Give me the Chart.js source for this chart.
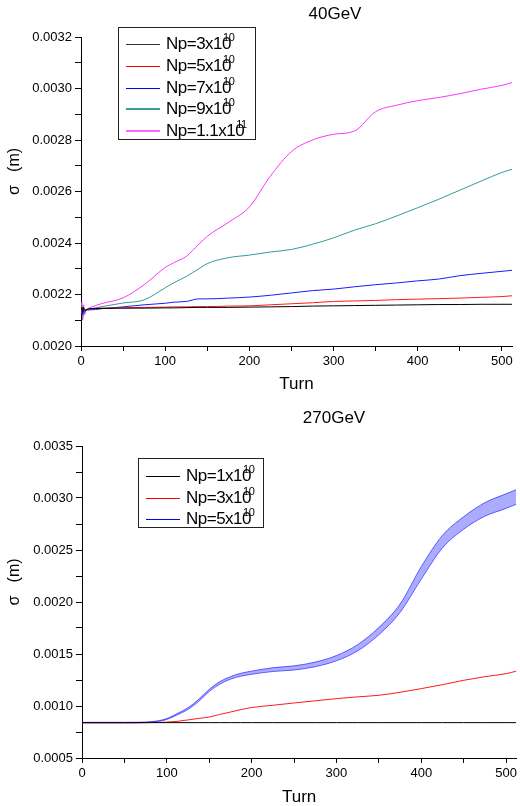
<!DOCTYPE html>
<html>
<head>
<meta charset="utf-8">
<script src="https://cdn.jsdelivr.net/npm/chart.js"></script>
<style>
  html, body { margin: 0; padding: 0; background: #fff; }
  body { width: 520px; height: 806px; position: relative; overflow: hidden;
         font-family: "Liberation Sans", Arial, sans-serif; color: #000; }
  .panel { position: absolute; left: 0; width: 520px; height: 403px; }
  .panel canvas { position: absolute; left: 0; top: 0; }
  .title { position: absolute; font-size: 17px; line-height: 20px; transform: translateX(-50%); white-space: nowrap; }
  .legend { position: absolute; box-sizing: border-box; border: 1px solid #222; background: #fff; }
  .legend .row { position: absolute; left: 0; height: 22px; display: flex; align-items: center; white-space: nowrap; }
  .legend .sw { margin-left: 7px; width: 34px; }
  .legend .lbl { margin-left: 6px; font-size: 17px; line-height: 22px; letter-spacing: -0.5px; }
  .legend sup { font-size: 11px; letter-spacing: -0.5px; position: relative; top: -8px; vertical-align: baseline; margin-left: -8px; }
</style>
</head>
<body>

<div class="panel" style="top:0">
  <canvas id="chart-40" width="520" height="403"></canvas>
  <div class="title" style="left:335px;top:4px">40GeV</div>
  <div class="legend" id="legend-40" style="left:118px;top:27px;width:138px;height:113px"></div>
</div>

<div class="panel" style="top:403px">
  <canvas id="chart-270" width="520" height="403"></canvas>
  <div class="title" style="left:334px;top:5px">270GeV</div>
  <div class="legend" id="legend-270" style="left:138px;top:55px;width:126px;height:70px"></div>
</div>

<script>
/* ── 40GeV data (turn, sigma in m) ───────────────────────── */
const TURNS_40 = [0, 1, 2, 3, 4, 6, 10, 25, 50, 75, 100, 110, 125, 140, 150, 175, 200, 225, 250, 275, 300, 325, 350, 375, 400, 425, 450, 475, 500, 512];

const NP3E10_40  = [0.00214, 0.00215, 0.00213, 0.00215, 0.00214, 0.00214, 0.002145, 0.002146, 0.002147, 0.002147, 0.002148, 0.002148, 0.002149, 0.00215, 0.00215, 0.00215, 0.002151, 0.002152, 0.002153, 0.002155, 0.002156, 0.002157, 0.002158, 0.002159, 0.00216, 0.002161, 0.002161, 0.002162, 0.002162, 0.002162];
const NP5E10_40  = [0.00214, 0.00215, 0.00213, 0.00215, 0.00214, 0.00214, 0.002145, 0.002147, 0.002148, 0.00215, 0.002151, 0.002152, 0.002152, 0.002153, 0.002153, 0.002155, 0.002156, 0.00216, 0.002164, 0.002168, 0.002173, 0.002175, 0.002177, 0.00218, 0.002182, 0.002184, 0.002186, 0.002189, 0.002192, 0.002195];
const NP7E10_40  = [0.00214, 0.00215, 0.00212, 0.00214, 0.00213, 0.00214, 0.00214, 0.002145, 0.002152, 0.00216, 0.002166, 0.00217, 0.002173, 0.002183, 0.002183, 0.002186, 0.00219, 0.002197, 0.002206, 0.002215, 0.002221, 0.00223, 0.002238, 0.002245, 0.002253, 0.00226, 0.002273, 0.002282, 0.00229, 0.002294];
const NP9E10_40  = [0.00213, 0.00216, 0.00211, 0.00215, 0.00213, 0.00214, 0.002143, 0.002153, 0.002167, 0.002179, 0.002226, 0.002245, 0.00227, 0.0023, 0.00232, 0.002343, 0.002353, 0.002365, 0.002375, 0.002395, 0.00242, 0.00245, 0.002475, 0.002505, 0.002537, 0.00257, 0.002605, 0.00264, 0.002674, 0.002686];
const NP11E10_40 = [0.00213, 0.00217, 0.0021, 0.00216, 0.00212, 0.00214, 0.002148, 0.002165, 0.002187, 0.002238, 0.002305, 0.002323, 0.002348, 0.002395, 0.002426, 0.00248, 0.00254, 0.00266, 0.002755, 0.0028, 0.002822, 0.002835, 0.00291, 0.002935, 0.002953, 0.002965, 0.00298, 0.002997, 0.003012, 0.003023];

const LEGEND_40 = ['Np=3x10', 'Np=5x10', 'Np=7x10', 'Np=9x10', 'Np=1.1x10'];
const EXP_40    = ['10', '10', '10', '10', '11'];

/* ── 270GeV data ─────────────────────────────────────────── */
const TURNS_270 = [0, 25, 50, 75, 90, 100, 112, 125, 137, 150, 162, 175, 187, 200, 225, 250, 275, 300, 325, 350, 375, 400, 425, 450, 475, 500, 512];

const NP1E10_270    = [0.00084, 0.00084, 0.00084, 0.00084, 0.00084, 0.00084, 0.00084, 0.00084, 0.00084, 0.00084, 0.00084, 0.00084, 0.00084, 0.00084, 0.00084, 0.00084, 0.00084, 0.00084, 0.00084, 0.00084, 0.00084, 0.00084, 0.00084, 0.00084, 0.00084, 0.00084, 0.00084];
const NP3E10_270    = [0.00084, 0.00084, 0.00084, 0.00084, 0.000842, 0.000845, 0.000852, 0.000866, 0.00088, 0.000894, 0.000918, 0.000942, 0.000965, 0.000985, 0.001007, 0.001029, 0.00105, 0.001071, 0.001088, 0.001103, 0.001132, 0.001167, 0.001205, 0.001247, 0.001282, 0.001311, 0.001335];
// the 5e10 curve oscillates fast, drawn as the band between its upper and lower edge
const NP5E10_HI_270 = [0.000843, 0.000843, 0.000843, 0.000846, 0.000858, 0.000879, 0.000926, 0.000983, 0.00106, 0.00116, 0.001232, 0.001282, 0.001314, 0.001335, 0.001368, 0.001386, 0.001422, 0.001485, 0.00159, 0.001755, 0.00198, 0.00234, 0.00264, 0.00282, 0.002955, 0.00304, 0.00308];
const NP5E10_LO_270 = [0.000837, 0.000837, 0.000837, 0.00084, 0.000852, 0.000871, 0.000914, 0.000967, 0.00104, 0.00114, 0.001208, 0.001258, 0.001286, 0.001305, 0.001332, 0.001346, 0.001378, 0.001435, 0.00153, 0.001685, 0.0019, 0.00222, 0.00252, 0.0027, 0.002825, 0.0029, 0.00294];

const LEGEND_270 = ['Np=1x10', 'Np=3x10', 'Np=5x10'];
const EXP_270    = ['10', '10', '10'];

/* ── helpers ─────────────────────────────────────────────── */
const FONT = '"Liberation Sans", Arial, sans-serif';

function pts(xs, ys) {
  return xs.map((x, i) => ({ x, y: ys[i] }));
}

function line(xs, ys, color, extra) {
  return Object.assign({
    data: pts(xs, ys),
    borderColor: color,
    borderWidth: 1,
    pointRadius: 0,
    fill: false,
    cubicInterpolationMode: 'monotone',
  }, extra || {});
}

function buildLegend(id, labels, exps, colors, widths, rowTops) {
  const el = document.getElementById(id);
  el.innerHTML = labels.map((lbl, i) => `
    <div class="row" style="top:${rowTops[i]}px">
      <span class="sw" style="height:${widths[i]}px;background:${colors[i]}"></span>
      <span class="lbl">${lbl}<sup>${exps[i]}</sup></span>
    </div>`).join('');
}

function makeChart(canvasId, datasets, opt) {
  return new Chart(document.getElementById(canvasId), {
    type: 'line',
    data: { datasets },
    options: {
      responsive: false,
      animation: false,
      events: [],
      layout: { padding: { left: 0, top: opt.padTop, right: opt.padRight, bottom: 0 } },
      plugins: { legend: { display: false }, tooltip: { enabled: false } },
      scales: {
        x: {
          type: 'linear',
          min: 0,
          max: 512,
          border: { display: true, color: '#000', width: 1 },
          grid: { drawOnChartArea: false, drawTicks: true, tickLength: 5, tickColor: '#000' },
          ticks: {
            stepSize: 50, includeBounds: false, autoSkip: false, maxRotation: 0, padding: 3,
            color: '#000', font: { family: FONT, size: 13 },
            callback: v => (v % 100 === 0 ? String(v) : ''),
          },
          afterBuildTicks: s => { s.ticks = s.ticks.filter(t => t.value % 50 === 0); },
          afterFit: s => { s.height = opt.xHeight; },
          title: {
            display: true, text: 'Turn', color: '#000',
            font: { family: FONT, size: 17, lineHeight: 1 },
            padding: { top: 0, bottom: opt.turnPad },
          },
        },
        y: {
          type: 'linear',
          min: opt.yMin,
          max: opt.yMax,
          border: { display: true, color: '#000', width: 1 },
          grid: { drawOnChartArea: false, drawTicks: true, tickLength: 6, tickColor: '#000' },
          ticks: {
            stepSize: opt.yStep, autoSkip: false, padding: 3,
            color: '#000', font: { family: FONT, size: 13 },
            callback: v => (Math.round(v * 10000) % opt.labelEvery === 0 ? v.toFixed(4) : ''),
          },
          afterFit: s => { s.width = opt.yWidth; },
          title: {
            display: true, text: '         \u03c3   (m)', color: '#000',
            font: { family: FONT, size: 16, lineHeight: 1 },
            padding: { top: 7, bottom: 0 },
          },
        },
      },
    },
  });
}

/* ── 40GeV chart ─────────────────────────────────────────── */
const COLORS_40 = ['#000000', '#ff1a1a', '#1a1aff', '#339999', '#ff33ff'];

makeChart('chart-40', [
  line(TURNS_40, NP3E10_40,  COLORS_40[0]),
  line(TURNS_40, NP5E10_40,  COLORS_40[1]),
  line(TURNS_40, NP7E10_40,  COLORS_40[2]),
  line(TURNS_40, NP9E10_40,  COLORS_40[3]),
  line(TURNS_40, NP11E10_40, COLORS_40[4]),
], {
  padTop: 37, padRight: 8, xHeight: 57, yWidth: 81, turnPad: 10.5,
  yMin: 0.0020, yMax: 0.0032, yStep: 0.0001, labelEvery: 2,
});

buildLegend('legend-40', LEGEND_40, EXP_40,
  ['#333333', '#ff0000', '#0000ff', '#3c9c9c', '#ff66ff'],
  [1, 1, 1, 2, 2.5],
  [5, 27, 49, 70, 92]);

/* ── 270GeV chart ────────────────────────────────────────── */
const COLORS_270 = ['#000000', '#ff1a1a', 'rgba(40,40,255,0.9)'];

makeChart('chart-270', [
  line(TURNS_270, NP1E10_270, COLORS_270[0]),
  line(TURNS_270, NP3E10_270, COLORS_270[1]),
  line(TURNS_270, NP5E10_HI_270, COLORS_270[2], { borderWidth: 0.8, fill: '+1', backgroundColor: 'rgba(70,70,255,0.45)' }),
  line(TURNS_270, NP5E10_LO_270, COLORS_270[2], { borderWidth: 0.8 }),
], {
  padTop: 43, padRight: 3, xHeight: 48, yWidth: 82, turnPad: 0.5,
  yMin: 0.0005, yMax: 0.0035, yStep: 0.00025, labelEvery: 5,
});

buildLegend('legend-270', LEGEND_270, EXP_270,
  ['#000000', '#ff0000', '#0000ff'],
  [1, 1, 1],
  [6, 28, 49]);
</script>
</body>
</html>
